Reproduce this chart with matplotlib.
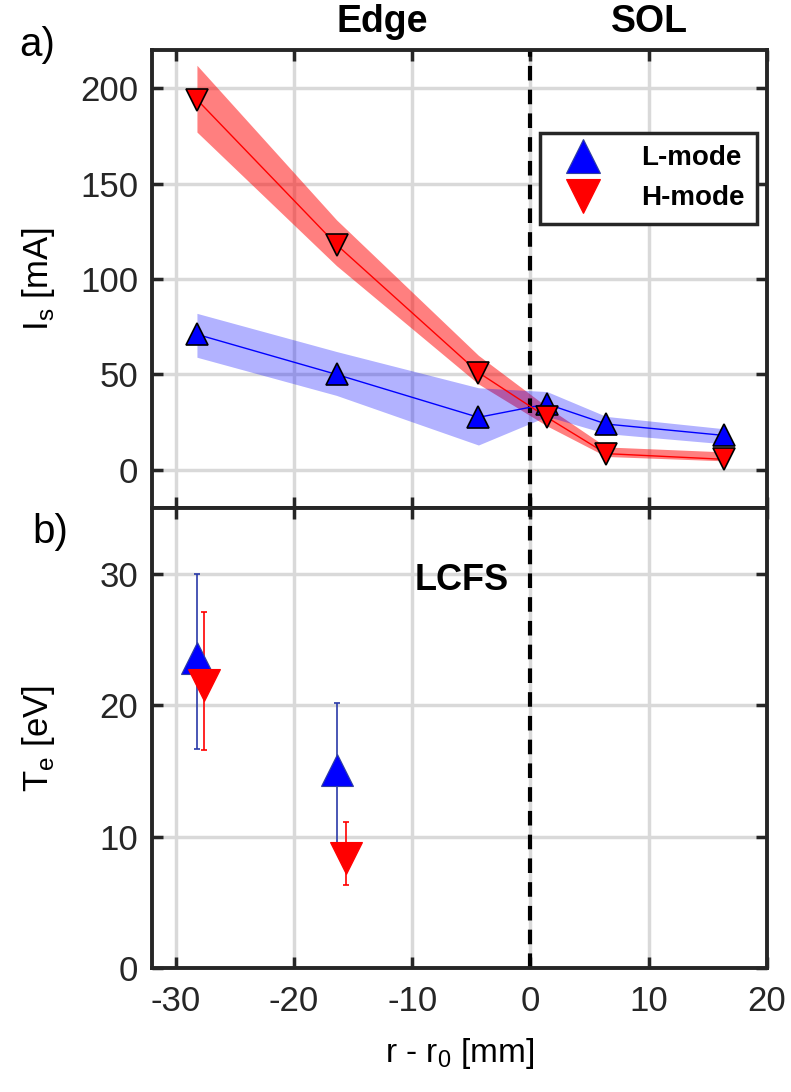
import matplotlib
matplotlib.use("Agg")
import matplotlib.pyplot as plt
import numpy as np

plt.rcParams['font.family'] = ['Liberation Sans', 'DejaVu Sans']
plt.rcParams['axes.unicode_minus'] = False
plt.rcParams['mathtext.fontset'] = 'custom'
plt.rcParams['mathtext.rm'] = 'Liberation Sans'

# ---- data ----
r_top = [-28.2, -16.4, -4.4, 1.4, 6.4, 16.4]
Is_L = [71, 50, 27.5, 34.5, 24, 18]
Is_L_lo = [59, 39, 13, 28, 19, 13.6]
Is_L_hi = [82, 62, 43, 41, 28, 21.5]
Is_H = [194, 118, 51, 27.5, 8.5, 5.5]
Is_H_lo = [177, 107, 45, 23, 7, 4.7]
Is_H_hi = [212, 131, 60, 33, 12, 9.4]

r_L_bot = [-28.2, -16.4]
Te_L = [23.6, 15.1]
Te_L_err_lo = [6.9, 5.6]
Te_L_err_hi = [6.4, 5.1]
r_H_bot = [-27.6, -15.6]
Te_H = [21.5, 8.4]
Te_H_err_lo = [4.9, 2.1]
Te_H_err_hi = [5.6, 2.7]

W, H = 791, 1092
fig = plt.figure(figsize=(W/100, H/100), dpi=100)
left, width = 152/W, 615/W
ax1 = fig.add_axes([left, 1-508/H, width, (508-50)/H])
ax2 = fig.add_axes([left, 1-968/H, width, (968-508)/H])

spine_c = '#262626'
for ax in (ax1, ax2):
    ax.set_xlim(-32, 20)
    ax.set_xticks([-30, -20, -10, 0, 10, 20])
    ax.grid(True, color='#d9d9d9', linewidth=2.5, zorder=0)
    ax.set_axisbelow(True)
    for s in ax.spines.values():
        s.set_linewidth(2.8)
        s.set_color(spine_c)
    ax.tick_params(direction='in', length=8, width=2.5, colors=spine_c,
                   labelcolor='#262626', labelsize=25, top=True, right=True)
    ax.tick_params(axis='y', pad=10)
    ax.tick_params(axis='x', pad=12)
    ax.axvline(0, color='black', linewidth=3, linestyle=(0, (3.5, 2.2)), zorder=2)

# top panel
ax1.set_ylim(-20, 220)
ax1.set_yticks([0, 50, 100, 150, 200])
ax1.tick_params(labelbottom=False)
ax1.fill_between(r_top, Is_H_lo, Is_H_hi, color='#ff0000', alpha=0.5, linewidth=0, zorder=1)
ax1.fill_between(r_top, Is_L_lo, Is_L_hi, color='#0000ff', alpha=0.3, linewidth=0, zorder=1)
ax1.plot(r_top, Is_L, color='blue', linewidth=1, zorder=3)
ax1.plot(r_top, Is_H, color='red', linewidth=1, zorder=3)
ax1.plot(r_top, Is_L, linestyle='none', marker='^', markersize=16.5, markerfacecolor='blue',
         markeredgecolor='black', markeredgewidth=1.2, zorder=4)
ax1.plot(r_top, Is_H, linestyle='none', marker='v', markersize=16.5, markerfacecolor='red',
         markeredgecolor='black', markeredgewidth=1.2, zorder=4)
ax1.set_ylabel(r'I$_\mathregular{s}$ [mA]', fontsize=25)
ax1.yaxis.set_label_coords(-0.155, 0.5)

hL, = ax1.plot([], [], linestyle='none', marker='^', markersize=25, markerfacecolor='blue',
               markeredgecolor='#3040a0', markeredgewidth=0.8)
hH, = ax1.plot([], [], linestyle='none', marker='v', markersize=25, markerfacecolor='red',
               markeredgecolor='red', markeredgewidth=0.8)
leg = ax1.legend([hL, hH], ['L-mode', 'H-mode'], loc='upper right',
                 bbox_to_anchor=(0.984, 0.819), borderaxespad=0, fancybox=False, framealpha=1,
                 prop={'weight': 'bold', 'size': 20}, handletextpad=1.0,
                 borderpad=0.45, labelspacing=0.5, handlelength=2.2)
leg.get_frame().set_edgecolor(spine_c)
leg.get_frame().set_linewidth(2.5)

# bottom panel
ax2.set_ylim(0, 35)
ax2.set_yticks([0, 10, 20, 30])
ax2.errorbar(r_L_bot, Te_L, yerr=[Te_L_err_lo, Te_L_err_hi], fmt='none',
             ecolor='#2a3aa8', elinewidth=1.2, capsize=2, capthick=1.2, zorder=3)
ax2.errorbar(r_H_bot, Te_H, yerr=[Te_H_err_lo, Te_H_err_hi], fmt='none',
             ecolor='red', elinewidth=1.2, capsize=2, capthick=1.2, zorder=3)
ax2.plot(r_L_bot, Te_L, linestyle='none', marker='^', markersize=23, markerfacecolor='blue',
         markeredgecolor='#3040a0', markeredgewidth=0.8, zorder=4)
ax2.plot(r_H_bot, Te_H, linestyle='none', marker='v', markersize=23, markerfacecolor='red',
         markeredgecolor='red', markeredgewidth=0.8, zorder=4)
ax2.set_ylabel(r'T$_\mathregular{e}$ [eV]', fontsize=25)
ax2.yaxis.set_label_coords(-0.155, 0.5)
ax2.set_xlabel(r'r - r$_\mathregular{0}$ [mm]', fontsize=24)
ax2.xaxis.set_label_coords(0.5, -0.148)

ax2.text(-5.8, 29.5, 'LCFS', fontsize=26, fontweight='bold', ha='center', va='center')

fig.text(382/W, 1-22/H, 'Edge', fontsize=27, fontweight='bold', ha='center', va='center')
fig.text(649/W, 1-22/H, 'SOL', fontsize=27, fontweight='bold', ha='center', va='center')
fig.text(37/W, 1-45/H, 'a)', fontsize=29, ha='center', va='center')
fig.text(50/W, 1-532/H, 'b)', fontsize=29, ha='center', va='center')

fig.savefig('out.png', dpi=100)
